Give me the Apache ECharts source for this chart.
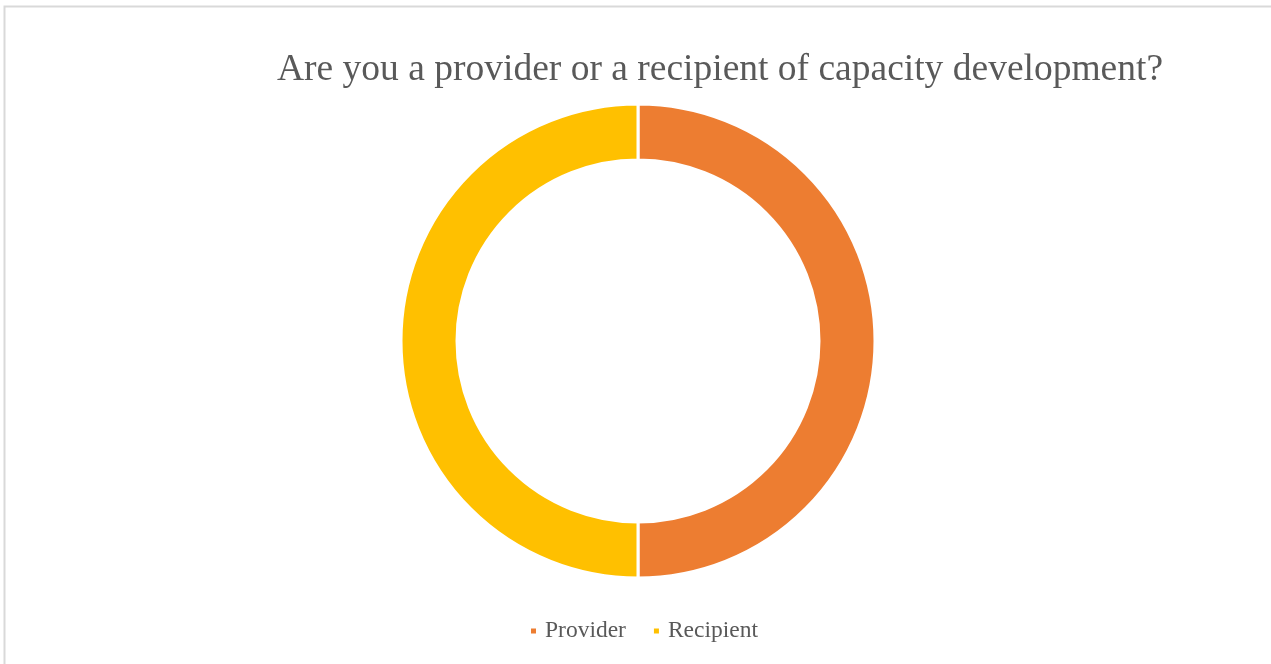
<!DOCTYPE html>
<html>
<head>
    <meta charset="utf-8">
    <script src="https://cdn.jsdelivr.net/npm/echarts@6/dist/echarts.min.js"></script>
    <style>
        *{
            margin:0;
            padding:0;
        }
        body{ background:#fff; }
    </style>
</head>
<body>
    <div id="main" style="width:1271px;height:664px;"></div>
    <script type="text/javascript">

    var titleText = 'Are you a provider or a recipient of capacity development?';
    var categories = ['Provider', 'Recipient'];
    var values = [50, 50];
    var colors = ['#ED7D31', '#FFC000'];

    var myChart = echarts.init(document.getElementById('main'));

    var seriesData = categories.map(function (name, i) {
        return { name: name, value: values[i], itemStyle: { color: colors[i] } };
    });

    myChart.setOption({
        animation: false,
        textStyle: { fontFamily: 'Liberation Serif' },
        title: {
            text: titleText,
            left: 272,
            top: 46,
            textStyle: {
                fontFamily: 'Liberation Serif',
                fontSize: 37.5,
                fontWeight: 'normal',
                color: '#595959'
            }
        },
        legend: {
            data: categories,
            left: 529,
            top: 619,
            padding: 0,
            icon: 'rect',
            itemWidth: 7,
            itemHeight: 7,
            itemGap: 26,
            textStyle: {
                fontFamily: 'Liberation Serif',
                fontSize: 23.5,
                color: '#595959',
                padding: [0, 0, 0, 3]
            }
        },
        graphic: [{
            type: 'rect',
            shape: { x: 4.5, y: 6.5, width: 1400, height: 800 },
            style: { fill: 'none', stroke: '#d9d9d9', lineWidth: 2 },
            silent: true
        }],
        series: [{
            type: 'pie',
            center: [638, 341],
            radius: [181, 237],
            startAngle: 90,
            clockwise: true,
            label: { show: false },
            labelLine: { show: false },
            itemStyle: { borderColor: '#ffffff', borderWidth: 3 },
            data: seriesData
        }]
    });
</script>
</body>
</html>
